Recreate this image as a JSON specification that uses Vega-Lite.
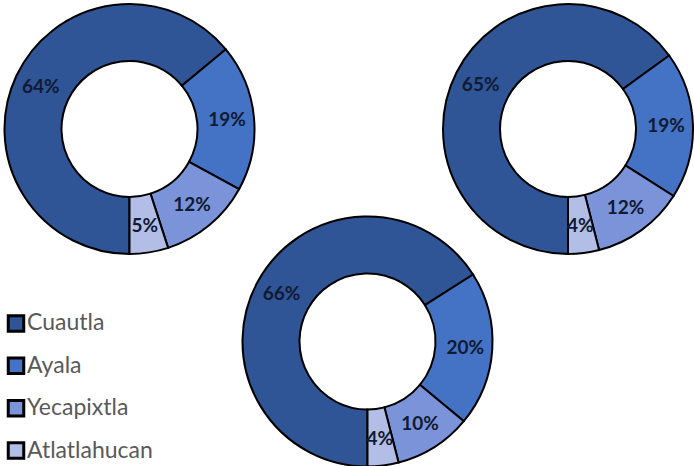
{
  "$schema": "https://vega.github.io/schema/vega-lite/v6.json",
  "background": "white",
  "padding": 0,
  "columns": 3,
  "bounds": "flush",
  "spacing": {"row": 0, "column": 0},
  "config": {"view": {"stroke": null}, "font": "Lato"},
  "datasets": {
    "shares": [
      {"panel": "A", "municipio": "Cuautla", "n": 1, "share": 0.64},
      {"panel": "A", "municipio": "Ayala", "n": 2, "share": 0.19},
      {"panel": "A", "municipio": "Yecapixtla", "n": 3, "share": 0.12},
      {"panel": "A", "municipio": "Atlatlahucan", "n": 4, "share": 0.05},
      {"panel": "B", "municipio": "Cuautla", "n": 1, "share": 0.65},
      {"panel": "B", "municipio": "Ayala", "n": 2, "share": 0.19},
      {"panel": "B", "municipio": "Yecapixtla", "n": 3, "share": 0.12},
      {"panel": "B", "municipio": "Atlatlahucan", "n": 4, "share": 0.04},
      {"panel": "C", "municipio": "Cuautla", "n": 1, "share": 0.66},
      {"panel": "C", "municipio": "Ayala", "n": 2, "share": 0.20},
      {"panel": "C", "municipio": "Yecapixtla", "n": 3, "share": 0.10},
      {"panel": "C", "municipio": "Atlatlahucan", "n": 4, "share": 0.04}
    ]
  },
  "data": {"name": "shares"},
  "concat": [
    {
      "width": 253, "height": 254,
      "transform": [{"filter": "datum.panel == 'A'"}],
      "encoding": {
        "theta": {"field": "share", "type": "quantitative", "stack": true, "scale": {"domain": [0, 1], "range": [3.14159265, 9.42477796]}},
        "order": {"field": "n", "type": "quantitative"},
        "detail": {"field": "municipio", "type": "nominal"}
      },
      "layer": [
        {"mark": {"type": "arc", "innerRadius": 68, "outerRadius": 125, "stroke": "black", "strokeWidth": 2},
         "encoding": {"color": {"field": "municipio", "type": "nominal", "scale": {"domain": ["Cuautla", "Ayala", "Yecapixtla", "Atlatlahucan"], "range": ["#2F5597", "#4472C4", "#7B93D9", "#B3BEE6"]}, "legend": null}}},
        {"mark": {"type": "text", "radius": 98, "fontSize": 19, "fontWeight": "bold", "color": "#0f1a33"},
         "encoding": {"text": {"field": "share", "type": "quantitative", "format": ".0%"}}}
      ]
    },
    {
      "width": 1, "height": 1,
      "data": {"values": []},
      "mark": "text",
      "encoding": {}
    },
    {
      "width": 178, "height": 254,
      "transform": [{"filter": "datum.panel == 'B'"}],
      "encoding": {
        "theta": {"field": "share", "type": "quantitative", "stack": true, "scale": {"domain": [0, 1], "range": [3.14159265, 9.42477796]}},
        "order": {"field": "n", "type": "quantitative"},
        "detail": {"field": "municipio", "type": "nominal"}
      },
      "layer": [
        {"mark": {"type": "arc", "innerRadius": 68, "outerRadius": 125, "stroke": "black", "strokeWidth": 2},
         "encoding": {"color": {"field": "municipio", "type": "nominal", "scale": {"domain": ["Cuautla", "Ayala", "Yecapixtla", "Atlatlahucan"], "range": ["#2F5597", "#4472C4", "#7B93D9", "#B3BEE6"]}, "legend": null}}},
        {"mark": {"type": "text", "radius": 98, "fontSize": 19, "fontWeight": "bold", "color": "#0f1a33"},
         "encoding": {"text": {"field": "share", "type": "quantitative", "format": ".0%"}}}
      ]
    },
    {
      "width": 26, "height": 212,
      "transform": [{"filter": "datum.panel == 'A'"}],
      "encoding": {
        "y": {"field": "municipio", "type": "nominal", "sort": ["Cuautla", "Ayala", "Yecapixtla", "Atlatlahucan"], "scale": {"type": "point", "padding": 1.065, "align": 0.795}, "axis": null}
      },
      "layer": [
        {"mark": {"type": "point", "shape": "square", "filled": true, "size": 240, "stroke": "black", "strokeWidth": 3, "opacity": 1},
         "encoding": {"color": {"field": "municipio", "type": "nominal", "scale": {"domain": ["Cuautla", "Ayala", "Yecapixtla", "Atlatlahucan"], "range": ["#2F5597", "#4472C4", "#7B93D9", "#B3BEE6"]}, "legend": null}}},
        {"mark": {"type": "text", "align": "left", "baseline": "middle", "dx": 11, "fontSize": 23, "color": "#595959"},
         "encoding": {"text": {"field": "municipio", "type": "nominal"}}}
      ]
    },
    {
      "width": 223, "height": 171,
      "transform": [{"filter": "datum.panel == 'C'"}],
      "encoding": {
        "theta": {"field": "share", "type": "quantitative", "stack": true, "scale": {"domain": [0, 1], "range": [3.14159265, 9.42477796]}},
        "order": {"field": "n", "type": "quantitative"},
        "detail": {"field": "municipio", "type": "nominal"}
      },
      "layer": [
        {"mark": {"type": "arc", "innerRadius": 68, "outerRadius": 125, "stroke": "black", "strokeWidth": 2},
         "encoding": {"color": {"field": "municipio", "type": "nominal", "scale": {"domain": ["Cuautla", "Ayala", "Yecapixtla", "Atlatlahucan"], "range": ["#2F5597", "#4472C4", "#7B93D9", "#B3BEE6"]}, "legend": null}}},
        {"mark": {"type": "text", "radius": 98, "fontSize": 19, "fontWeight": "bold", "color": "#0f1a33"},
         "encoding": {"text": {"field": "share", "type": "quantitative", "format": ".0%"}}}
      ]
    }
  ]
}
